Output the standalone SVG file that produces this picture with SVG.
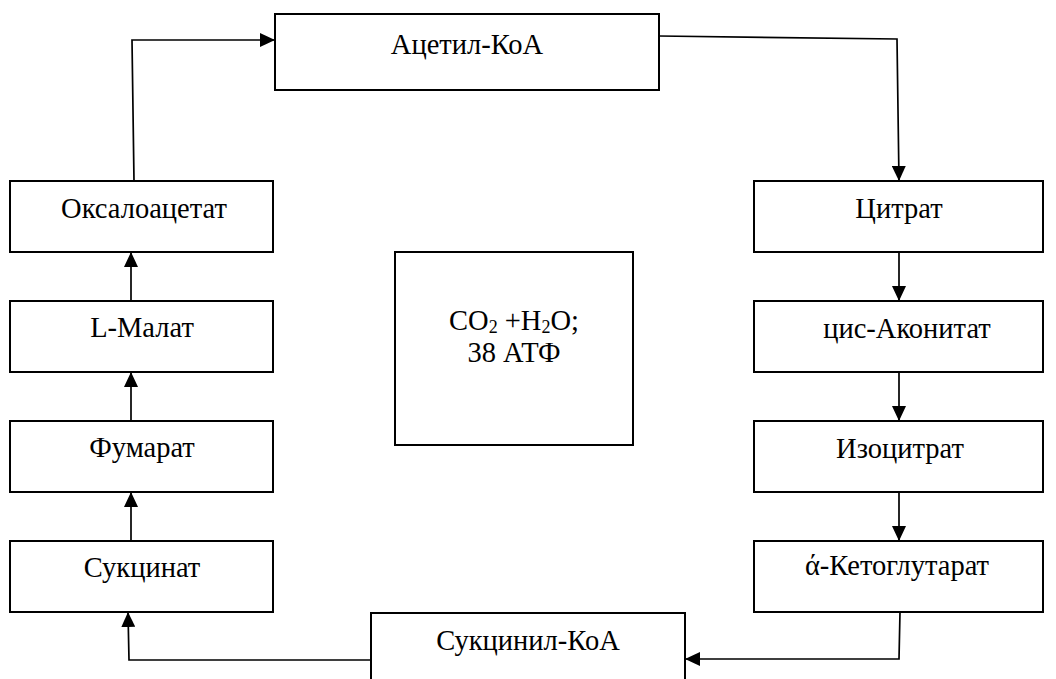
<svg xmlns="http://www.w3.org/2000/svg" width="1056" height="679" viewBox="0 0 1056 679">
<style>
.box{fill:#fff;stroke:#000;stroke-width:2}
.lbl{font-family:"Liberation Serif","Times New Roman",serif;font-size:28.5px;fill:#000;text-anchor:middle}
.sub{font-size:18px}
.con{fill:none;stroke:#000;stroke-width:1.7}
</style>
<defs>
<marker id="ah" markerWidth="15" markerHeight="14" refX="15" refY="7" orient="auto" markerUnits="userSpaceOnUse">
<path d="M0,0 L15,7 L0,14 Z" fill="#000"/>
</marker>
</defs>
<rect width="1056" height="679" fill="#fff"/>
<g id="connectors">
<path class="con" d="M134,181 L132,40 L275,40" marker-end="url(#ah)"/>
<path class="con" d="M659,36 L897,39 L899,181" marker-end="url(#ah)"/>
<path class="con" d="M899,252 L899,301" marker-end="url(#ah)"/>
<path class="con" d="M899,372 L899,421" marker-end="url(#ah)"/>
<path class="con" d="M899,492 L899,541" marker-end="url(#ah)"/>
<path class="con" d="M900,612 L899,659 L685,659" marker-end="url(#ah)"/>
<path class="con" d="M371,660 L129,660 L128,612" marker-end="url(#ah)"/>
<path class="con" d="M131,541 L131,492" marker-end="url(#ah)"/>
<path class="con" d="M131,421 L131,372" marker-end="url(#ah)"/>
<path class="con" d="M131,301 L131,252" marker-end="url(#ah)"/>
</g>
<g id="acetyl"><rect class="box" x="275" y="14" width="384" height="76"/><text class="lbl" x="467" y="54">Ацетил-КоА</text></g>
<g id="citrate"><rect class="box" x="754" y="181" width="289" height="71"/><text class="lbl" x="899" y="218">Цитрат</text></g>
<g id="cisaconitate"><rect class="box" x="754" y="301" width="289" height="71"/><text class="lbl" x="907" y="338">цис-Аконитат</text></g>
<g id="isocitrate"><rect class="box" x="754" y="421" width="289" height="71"/><text class="lbl" x="900" y="458">Изоцитрат</text></g>
<g id="ketoglutarate"><rect class="box" x="754" y="541" width="289" height="71"/><text class="lbl" x="897" y="575">ά-Кетоглутарат</text></g>
<g id="succinylcoa"><rect class="box" x="371" y="613" width="314" height="80"/><text class="lbl" x="528" y="650">Сукцинил-КоА</text></g>
<g id="succinate"><rect class="box" x="10" y="541" width="263" height="71"/><text class="lbl" x="142" y="577">Сукцинат</text></g>
<g id="fumarate"><rect class="box" x="10" y="421" width="263" height="71"/><text class="lbl" x="142" y="457">Фумарат</text></g>
<g id="malate"><rect class="box" x="10" y="301" width="263" height="71"/><text class="lbl" x="142" y="337">L-Малат</text></g>
<g id="oxaloacetate"><rect class="box" x="10" y="181" width="263" height="71"/><text class="lbl" x="144" y="218">Оксалоацетат</text></g>
<g id="result"><rect class="box" x="395" y="252" width="238" height="193"/>
<text class="lbl" x="514" y="330">CO<tspan class="sub" dy="3">2</tspan><tspan dy="-3"> +H</tspan><tspan class="sub" dy="3">2</tspan><tspan dy="-3">O;</tspan></text>
<text class="lbl" x="514" y="362">38 АТФ</text></g>
</svg>
